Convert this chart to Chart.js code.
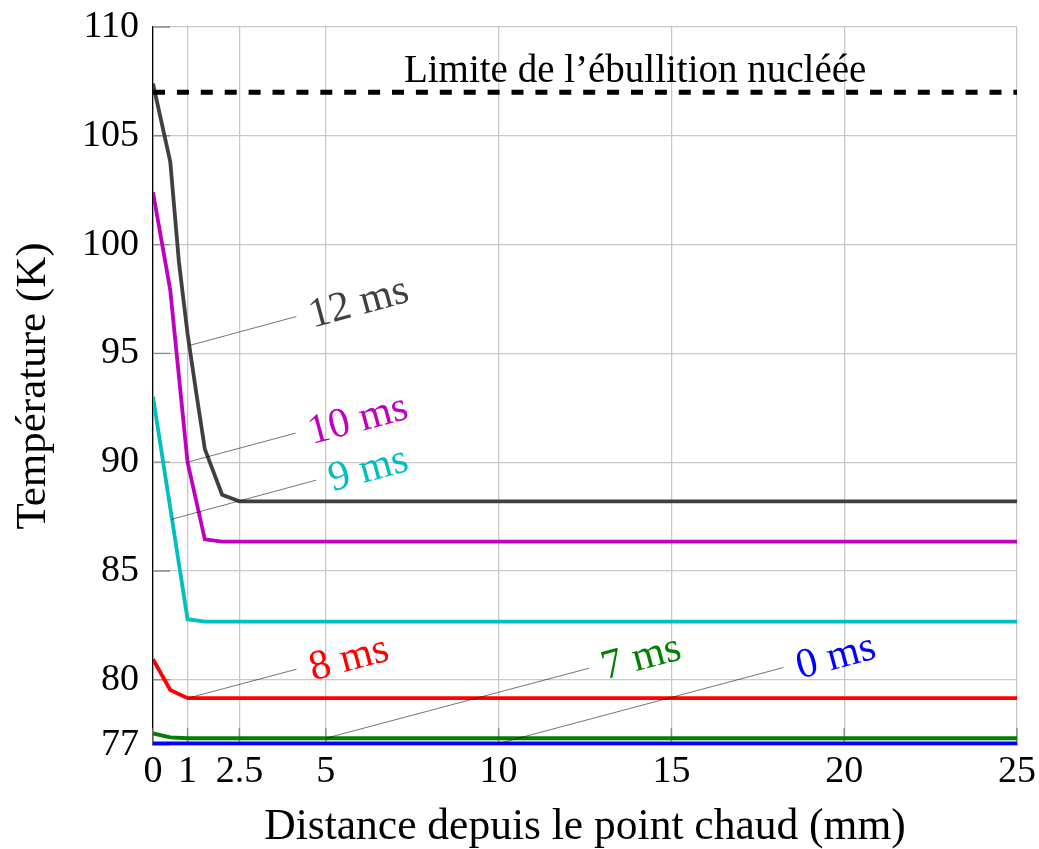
<!DOCTYPE html>
<html>
<head>
<meta charset="utf-8">
<script src="https://cdn.jsdelivr.net/npm/chart.js@4.4.1/dist/chart.umd.min.js"></script>
<style>
  html, body { margin: 0; padding: 0; background: #ffffff; }
  canvas { display: block; }
</style>
</head>
<body>
<canvas id="chart" width="1039" height="849"></canvas>
<script>
// Axis ticks
const xTicks = [0, 1, 2.5, 5, 10, 15, 20, 25];
const yTicks = [77, 80, 85, 90, 95, 100, 105, 110];

// Temperature profiles (K) versus distance from the hot spot (mm)
const dist0  = [0, 25];
const temp0  = [77.07, 77.07];
const dist7  = [0, 0.5, 1, 25];
const temp7  = [77.53, 77.35, 77.31, 77.31];
const dist8  = [0, 0.5, 1, 25];
const temp8  = [80.94, 79.53, 79.15, 79.15];
const dist9  = [0, 1, 1.5, 25];
const temp9  = [93.0, 82.78, 82.67, 82.67];
const dist10 = [0, 0.5, 1, 1.5, 2, 25];
const temp10 = [102.4, 97.9, 90.0, 86.45, 86.35, 86.35];
const dist12 = [0, 0.5, 0.75, 1, 1.25, 1.5, 2, 2.5, 25];
const temp12 = [107.4, 103.8, 99.2, 95.9, 93.2, 90.6, 88.5, 88.2, 88.2];

// Nucleate boiling limit
const limitTemp = 107;
const limitLabel = 'Limite de l\u2019\u00e9bullition nucl\u00e9\u00e9e';

const SERIF = '"Liberation Serif", "DejaVu Serif", serif';

const series = [
  { name: '0 ms',  xs: dist0,  ys: temp0,  color: '#0000ff' },
  { name: '7 ms',  xs: dist7,  ys: temp7,  color: '#008000' },
  { name: '8 ms',  xs: dist8,  ys: temp8,  color: '#ff0000' },
  { name: '9 ms',  xs: dist9,  ys: temp9,  color: '#00bfbf' },
  { name: '10 ms', xs: dist10, ys: temp10, color: '#bf00bf' },
  { name: '12 ms', xs: dist12, ys: temp12, color: '#404040' }
];

// Pin labels: where each leader starts on its curve and its pixel run to the text
const pins = [
  { series: 5, at: 1.05, dx: 107, dy: -29 },
  { series: 4, at: 1.0,  dx: 108, dy: -29 },
  { series: 3, at: 0.55, dx: 144, dy: -39 },
  { series: 2, at: 1.0,  dx: 109, dy: -29 },
  { series: 1, at: 5,    dx: 263, dy: -70 },
  { series: 0, at: 10,   dx: 285, dy: -76 }
];

function valueAt(s, xv) {
  for (let i = 0; i < s.xs.length - 1; i++) {
    if (xv >= s.xs[i] && xv <= s.xs[i + 1]) {
      const t = (xv - s.xs[i]) / (s.xs[i + 1] - s.xs[i]);
      return s.ys[i] + t * (s.ys[i + 1] - s.ys[i]);
    }
  }
  return s.ys[s.ys.length - 1];
}

const datasets = series.map(s => ({
  label: s.name,
  data: s.xs.map((xv, i) => ({ x: xv, y: s.ys[i] })),
  borderColor: s.color,
  backgroundColor: s.color,
  borderWidth: 3.8,
  pointRadius: 0,
  tension: 0,
  fill: false
}));

datasets.unshift({
  label: 'limite',
  data: [{ x: xTicks[0], y: limitTemp }, { x: xTicks[xTicks.length - 1], y: limitTemp }],
  borderColor: '#000000',
  borderWidth: 5,
  borderDash: [12, 11.9],
  borderCapStyle: 'butt',
  pointRadius: 0,
  fill: false
});

const annotate = {
  id: 'annotate',
  beforeDatasetsDraw(chart) {
    // inward tick marks on the left and bottom axes
    const { ctx, chartArea: a, scales: { x, y } } = chart;
    ctx.save();
    ctx.strokeStyle = '#8a8a8a';
    ctx.lineWidth = 1.4;
    ctx.beginPath();
    for (const v of yTicks) {
      const py = y.getPixelForValue(v);
      ctx.moveTo(a.left, py); ctx.lineTo(a.left + 17, py);
    }
    for (const v of xTicks) {
      const px = x.getPixelForValue(v);
      ctx.moveTo(px, a.bottom); ctx.lineTo(px, a.bottom - 17);
    }
    ctx.stroke();
    ctx.restore();
  },
  afterDatasetsDraw(chart) {
    const { ctx, scales: { x, y } } = chart;
    ctx.save();
    ctx.font = '39px ' + SERIF;
    ctx.fillStyle = '#000000';
    ctx.textAlign = 'center';
    ctx.textBaseline = 'alphabetic';
    ctx.fillText(limitLabel, x.getPixelForValue(13.95), y.getPixelForValue(limitTemp) - 10);
    ctx.restore();

    for (const p of pins) {
      const s = series[p.series];
      const px = x.getPixelForValue(p.at);
      const py = y.getPixelForValue(valueAt(s, p.at));
      const ex = px + p.dx, ey = py + p.dy;
      ctx.save();
      ctx.strokeStyle = 'rgba(0,0,0,0.55)';
      ctx.lineWidth = 1;
      ctx.beginPath();
      ctx.moveTo(px, py);
      ctx.lineTo(ex, ey);
      ctx.stroke();
      ctx.translate(ex, ey);
      ctx.rotate(Math.atan2(p.dy, p.dx));
      ctx.font = '42px ' + SERIF;
      ctx.fillStyle = s.color;
      ctx.textAlign = 'left';
      ctx.textBaseline = 'middle';
      ctx.fillText(s.name, 13, 4);
      ctx.restore();
    }
  }
};

new Chart(document.getElementById('chart'), {
  type: 'line',
  data: { datasets },
  options: {
    responsive: false,
    animation: false,
    events: [],
    layout: { padding: { left: 0, right: 22, top: 27, bottom: 0 } },
    plugins: { legend: { display: false }, tooltip: { enabled: false } },
    scales: {
      x: {
        type: 'linear',
        min: 0,
        max: 25,
        afterBuildTicks: s => { s.ticks = xTicks.map(v => ({ value: v })); },
        afterFit: s => { s.height = 104; s.paddingLeft = 0; s.paddingRight = 0; },
        grid: { color: '#c8c8c8', lineWidth: 1.3, drawTicks: false },
        border: { color: '#000000', width: 1.3 },
        ticks: {
          color: '#000000',
          font: { family: SERIF, size: 38, lineHeight: 1 },
          padding: 8,
          maxRotation: 0,
          autoSkip: false,
          callback: v => String(v)
        },
        title: {
          display: true,
          text: 'Distance depuis le point chaud (mm)',
          color: '#000000',
          font: { family: SERIF, size: 43.5, lineHeight: 1 },
          padding: { top: 0, bottom: 0 }
        }
      },
      y: {
        type: 'linear',
        min: 77,
        max: 110,
        afterBuildTicks: s => { s.ticks = yTicks.map(v => ({ value: v })); },
        afterFit: s => { s.width = 153; s.paddingTop = 0; s.paddingBottom = 0; },
        grid: { color: '#c8c8c8', lineWidth: 1.3, drawTicks: false },
        border: { color: '#000000', width: 1.3 },
        ticks: {
          color: '#000000',
          font: { family: SERIF, size: 38, lineHeight: 1 },
          padding: 14,
          autoSkip: false,
          callback: v => String(v)
        },
        title: {
          display: true,
          text: 'Temp\u00e9rature (K)',
          color: '#000000',
          font: { family: SERIF, size: 43, lineHeight: 1 },
          padding: { top: 12, bottom: 0 }
        }
      }
    }
  },
  plugins: [annotate]
});
</script>
</body>
</html>
